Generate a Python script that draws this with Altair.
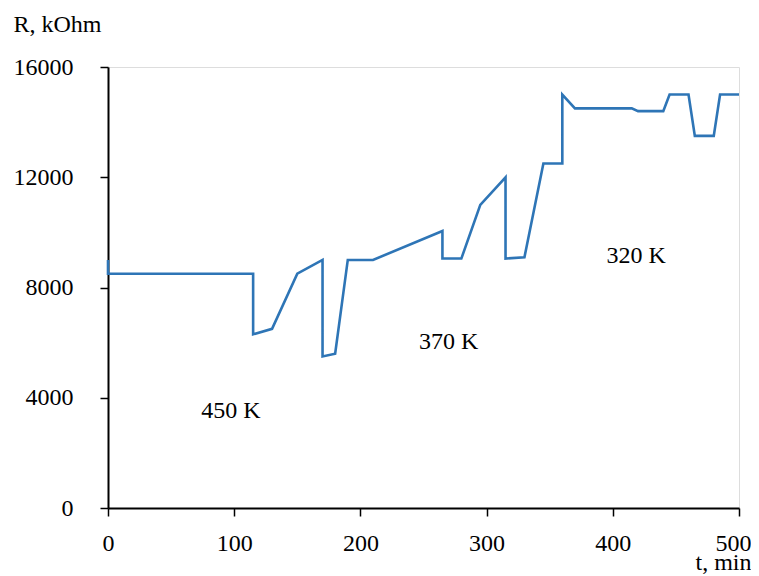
import altair as alt
import pandas as pd

# Measured series (t in min, R in kOhm)
t_min = [0, 0, 115, 115, 130, 150, 170, 170, 180, 190, 210, 265, 265, 280, 295,
         315, 315, 330, 345, 360, 360, 370, 415, 420, 440, 445, 460, 465, 480, 485, 500]
r_kohm = [9000, 8500, 8500, 6300, 6500, 8500, 9000, 5500, 5600, 9000, 9000, 10050, 9050, 9050, 11000,
          12000, 9050, 9100, 12500, 12500, 15000, 14500, 14500, 14400, 14400, 15000, 15000, 13500, 13500, 15000, 15000]

# Temperature annotations
label_text = ["450 K", "370 K", "320 K"]
label_t = [97.5, 270, 418.5]
label_r = [3270, 5770, 8890]

x_ticks = [0, 100, 200, 300, 400, 500]
y_ticks = [0, 4000, 8000, 12000, 16000]

FONT = "Liberation Serif"

df = pd.DataFrame({"i": list(range(len(t_min))), "t": t_min, "r": r_kohm})
lab = pd.DataFrame({"txt": label_text, "t": label_t, "r": label_r})

x_scale = alt.Scale(domain=[0, 500], nice=False, zero=False)
y_scale = alt.Scale(domain=[0, 16000], nice=False)

common = dict(
    grid=False, format="d", labelFlush=False, labelOverlap=False,
    labelFont=FONT, labelFontSize=24, labelColor="black",
    titleFont=FONT, titleFontSize=24, titleColor="black", titleFontWeight="normal",
    titleAngle=0, titleAlign="left", titleBaseline="alphabetic",
    domainColor="black", domainWidth=2, tickColor="black", tickWidth=1.5, tickSize=8,
)

last_x = x_ticks[-1]

line = alt.Chart(df).mark_line(color="#2E75B6", strokeWidth=2.6, clip=False).encode(
    x=alt.X("t:Q", scale=x_scale,
            axis=alt.Axis(values=x_ticks, title="t, min",
                          titleX=587, titleY=61, labelPadding=15,
                          labelAlign={"condition": {"test": f"datum.value === {last_x}", "value": "right"},
                                      "value": "center"},
                          labelOffset={"condition": {"test": f"datum.value === {last_x}", "value": 12},
                                       "value": 0},
                          **common)),
    y=alt.Y("r:Q", scale=y_scale,
            axis=alt.Axis(values=y_ticks, title="R, kOhm",
                          titleX=-95, titleY=-36, labelPadding=27, **common)),
    order=alt.Order("i:Q"),
)

text = alt.Chart(lab).mark_text(
    font=FONT, fontSize=24, color="black", align="center", baseline="alphabetic"
).encode(
    x=alt.X("t:Q", scale=x_scale),
    y=alt.Y("r:Q", scale=y_scale),
    text="txt:N",
)

chart = alt.layer(line, text).properties(
    width=631, height=441,
    autosize=alt.AutoSizeParams(type="none"),
    padding={"left": 100, "top": 59, "right": 12, "bottom": 66},
).configure_view(stroke=None).configure_axis(
    labelFont=FONT, titleFont=FONT
).configure(font=FONT)

chart.save("out.html", embed_options={"renderer": "svg", "actions": False})
